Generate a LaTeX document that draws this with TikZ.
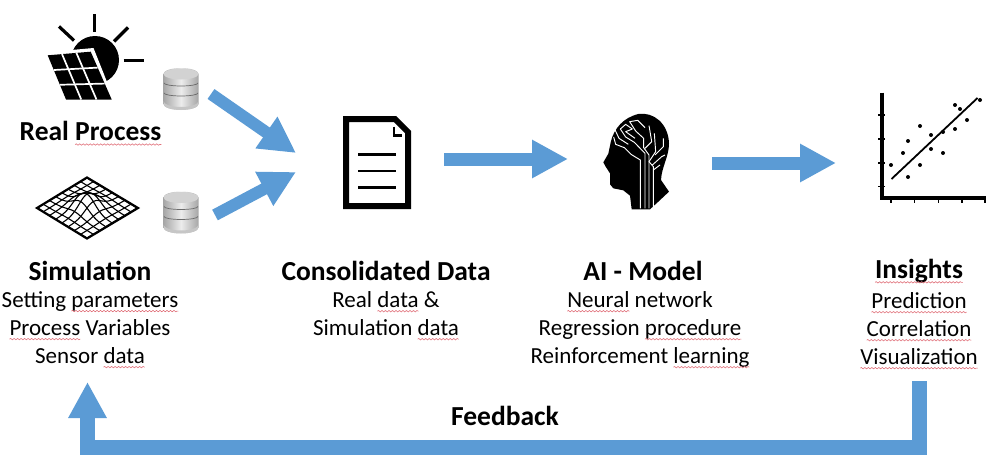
\documentclass[tikz,border=0pt]{standalone}
\usepackage{fontspec}
\setmainfont{Carlito}
\usetikzlibrary{arrows.meta}
\usetikzlibrary{decorations.pathmorphing}

\definecolor{flowblue}{HTML}{5B9BD5}
\definecolor{spellred}{HTML}{E0707A}

\newsavebox{\spellbox}
\newlength{\spellwidth}

\tikzset{
  flow/.style={draw=flowblue, line width=12, -{Triangle[length=36, width=36]}},
  spellline/.style={draw=spellred, line width=0.6, decorate, decoration={snake, segment length=3.5, amplitude=0.7}},
  heading/.style={font=\fontsize{27.5}{28}\selectfont\bfseries, inner sep=0pt, anchor=center},
  details/.style={font=\fontsize{23}{28}\selectfont, inner sep=0pt, align=center, anchor=north},
  blackline/.style={draw=black, line width=3.2},
  circuit/.style={draw=white, line width=0.95, line join=round}
}

\newcommand{\spell}[1]{\sbox{\spellbox}{#1}\setlength{\spellwidth}{\wd\spellbox}\usebox{\spellbox}\tikz[overlay]\draw[spellline] (-\spellwidth,-4pt) -- (0pt,-4pt);}

\begin{document}
\begin{tikzpicture}[x=1pt, y=-1pt]
  \useasboundingbox (0, 0) rectangle (1000, 463);

  % sun and panel
  \fill (95, 60) circle (24);
  \draw[blackline] (94.7, 14) -- (94.7, 32);
  \draw[blackline] (59, 26.5) -- (74, 40.5);
  \draw[blackline] (128, 27.5) -- (114, 41.5);
  \draw[blackline] (123.5, 60.7) -- (143.5, 60.7);
  \fill[white] (44, 52.5) -- (93.5, 48) -- (115, 102) -- (63, 102) -- cycle;
  \fill (47.7, 55.3) -- (90.7, 51.7) -- (111.7, 99.5) -- (66, 99.5) -- cycle;
  \foreach \t in {0.333, 0.667} {
    \draw[white, line width=1.7] ({47.7 + \t*18.3}, {55.3 + \t*44.2}) -- ({90.7 + \t*21}, {51.7 + \t*47.8});
    \draw[white, line width=1.7] ({47.7 + \t*43}, {55.3 - \t*3.6}) -- ({66 + \t*45.7}, 99.5);
  }

  % mesh surface
  \foreach \v in {0, 0.125, ..., 1.01} {
    \draw[line width=1.1, smooth] plot[domain=0:1, samples=17] ({87 + 50*(\x - \v)}, {208 + 30*(\x + \v - 1) - 14*exp(-((\x - 0.5)^2 + (\v - 0.5)^2)/0.05)});
    \draw[line width=1.1, smooth] plot[domain=0:1, samples=17] ({87 + 50*(\v - \x)}, {208 + 30*(\x + \v - 1) - 14*exp(-((\x - 0.5)^2 + (\v - 0.5)^2)/0.05)});
  }
  \draw[line width=2.2, line join=miter] (87, 177.5) -- (138, 208) -- (87, 238.5) -- (37, 208) -- cycle;

  % databases
  \foreach \y in {68, 191.5} {
    \begin{scope}[shift={(181, \y)}]
      \shade[left color=gray!70, right color=gray!70, middle color=gray!15] (-17.5, 6) -- (-17.5, 36) arc[start angle=180, end angle=360, x radius=17.5, y radius=-6] -- (17.5, 6) arc[start angle=0, end angle=180, x radius=17.5, y radius=-6];
      \fill[gray!45] (-17.5, 36) arc[start angle=180, end angle=360, x radius=17.5, y radius=-6] -- (17.5, 33) arc[start angle=360, end angle=180, x radius=17.5, y radius=-6] -- cycle;
      \fill[gray!35] (0, 6) ellipse (17.5 and 5.5);
      \draw[gray!85!black, line width=0.7] (-17, 15) arc[start angle=180, end angle=360, x radius=17, y radius=-3];
      \draw[gray!85!black, line width=0.7] (-17, 25) arc[start angle=180, end angle=360, x radius=17, y radius=-3];
    \end{scope}
  }

  % document
  \draw[line width=6, line join=miter] (346, 119) -- (395, 119) -- (408, 132) -- (408, 206) -- (346, 206) -- cycle;
  \draw[line width=2.6, line join=miter] (394, 126.5) -- (394, 135.5) -- (402, 135.5);
  \foreach \y in {154.5, 171, 187.5} {
    \draw[line width=2.4] (358, \y) -- (396, \y);
  }

  % head
  \begin{scope}[shift={(595, 105)}, scale=1/3]
    \fill (25, 172) -- (40, 146) -- (48, 108) .. controls (58, 70) and (85, 38) .. (130, 27) .. controls (175, 20) and (220, 55) .. (222, 115) .. controls (222, 155) and (200, 185) .. (198, 225) -- (222, 260) -- (190, 290) -- (165, 313) -- (110, 313) -- (105, 272) -- (85, 256) -- (55, 250) -- (45, 238) -- (45, 205) -- (32, 185) -- cycle;
    \draw[circuit] (136, 310) -- (136, 165) -- (108, 148) -- (88, 128) -- (62, 118) -- (56, 96);
    \draw[circuit] (150, 310) -- (150, 145) -- (118, 112) -- (92, 96) -- (76, 72) -- (92, 58) -- (112, 72);
    \draw[circuit] (162, 310) -- (162, 150) -- (146, 128) -- (146, 100) -- (122, 78) -- (104, 50) -- (128, 46) -- (150, 68);
    \draw[circuit] (175, 310) -- (175, 185) -- (162, 170) -- (182, 140) -- (178, 85);
    \draw[circuit] (150, 130) -- (170, 110) -- (162, 62);
    \draw[circuit] (172, 180) -- (200, 155) -- (210, 150);
    \draw[circuit] (180, 150) -- (205, 125) -- (205, 100);
    \draw[circuit] (175, 195) -- (195, 180);
    \draw[circuit] (112, 72) -- (92, 80) -- (120, 100);
    \draw[circuit] (58, 70) -- (72, 100) -- (100, 118);
  \end{scope}

  % scatter plot
  \draw[line width=4] (882.3, 92.5) -- (882.3, 197.5) -- (986, 197.5);
  \foreach \y in {115, 139, 163, 186.5} {
    \draw[line width=1.8] (885, \y) -- (878, \y);
  }
  \foreach \x in {891, 914.5, 938.5, 962, 985} {
    \draw[line width=1.2] (\x, 199) -- (\x, 203);
  }
  \draw[line width=1.8] (891.5, 179) -- (977.5, 98);
  \foreach \x/\y in {891/165, 903/153, 908/141, 908/177, 920/126, 920/165, 931/135, 931/149, 943/153, 943/132, 955/105, 955/129, 960/109, 967/120, 980/100} {
    \fill (\x, \y) circle (2);
  }

  % arrows
  \coordinate (realstart) at (211, 94);
  \coordinate (simstart) at (215, 215);
  \coordinate (datain) at (296, 153);
  \coordinate (datain2) at (296, 172);
  \coordinate (datastart) at (444, 159);
  \coordinate (modelin) at (568, 159);
  \coordinate (modelstart) at (712, 163);
  \coordinate (plotin) at (836, 163);
  \draw[flow] (realstart) -- (datain);
  \draw[flow] (simstart) -- (datain2);
  \draw[flow, line width=13] (datastart) -- (modelin);
  \draw[flow, line width=13] (modelstart) -- (plotin);

  % feedback
  \coordinate (fbstart) at (919.5, 381);
  \coordinate (fbright) at (919.5, 447.5);
  \coordinate (fbleft) at (87.5, 447.5);
  \coordinate (fbend) at (87.5, 382);
  \draw[flow, line width=14.5, line join=miter] (fbstart) -- (fbright) -- (fbleft) -- (fbend);

  % labels
  \node[heading] (real) at (90.5, 131) {Real \spell{Process}};
  \node[heading] (simulation) at (90, 271) {Simulation};
  \node[details] (simulationtext) at (90, 291) {Setting \spell{parameters} \\ \spell{Process} Variables \\ Sensor \spell{data}};
  \node[heading] (data) at (386, 271) {Consolidated Data};
  \node[details] (datatext) at (386, 291) {Real \spell{data} \& \\ Simulation \spell{data}};
  \node[heading] (model) at (643, 271) {AI - Model};
  \node[details] (modeltext) at (640, 291) {\spell{Neural} network \\ Regression \spell{procedure} \\ Reinforcement \spell{learning}};
  \node[heading] (insights) at (919, 271) {\spell{Insights}};
  \node[details] (insightstext) at (919, 292) {\spell{Prediction} \\ \spell{Correlation} \\ \spell{Visualization}};
  \node[heading] (feedback) at (505, 416) {Feedback};
\end{tikzpicture}
\end{document}
